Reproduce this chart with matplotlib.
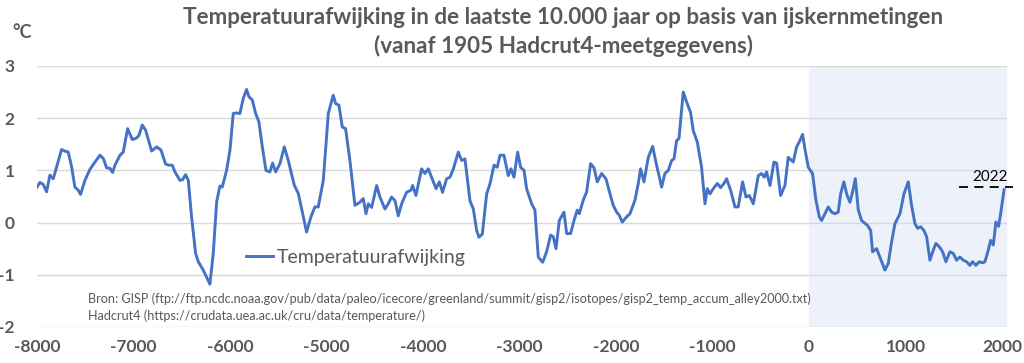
import matplotlib
matplotlib.use('Agg')
import matplotlib.pyplot as plt

plt.rcParams['font.family'] = ['Lato', 'DejaVu Sans']

# jaartallen (negatief = v.Chr.) en temperatuurafwijking in graden C
years = [-8000, -7969, -7935, -7900, -7866, -7831, -7796, -7745, -7710, -7676,
         -7641, -7607, -7572, -7548, -7503, -7451, -7399, -7347, -7313, -7278,
         -7244, -7216, -7192, -7140, -7106, -7061, -7012, -6968, -6943, -6909,
         -6874, -6812, -6760, -6715, -6667, -6632, -6598, -6570, -6519, -6491,
         -6460, -6432, -6398, -6356, -6328, -6277, -6208, -6173, -6138, -6104,
         -6080, -6035, -6000, -5966, -5931, -5897, -5862, -5828, -5803, -5769,
         -5734, -5700, -5665, -5627, -5586, -5558, -5527, -5482, -5437, -5396,
         -5334, -5292, -5206, -5161, -5120, -5085, -5033, -4981, -4930, -4905,
         -4871, -4836, -4802, -4757, -4705, -4653, -4619, -4591, -4567, -4532,
         -4480, -4446, -4394, -4360, -4325, -4290, -4256, -4221, -4170, -4125,
         -4107, -4073, -4014, -3980, -3945, -3911, -3865, -3831, -3797, -3755,
         -3720, -3685, -3634, -3599, -3565, -3513, -3478, -3444, -3420, -3385,
         -3340, -3306, -3264, -3230, -3202, -3161, -3116, -3088, -3057, -3019,
         -2988, -2953, -2926, -2874, -2840, -2805, -2760, -2719, -2677, -2650,
         -2622, -2587, -2539, -2511, -2470, -2435, -2401, -2380, -2339, -2304,
         -2263, -2228, -2194, -2149, -2104, -2062, -2028, -1993, -1966, -1935,
         -1890, -1855, -1803, -1769, -1745, -1710, -1665, -1620, -1579, -1527,
         -1493, -1458, -1423, -1399, -1372, -1347, -1303, -1268, -1227, -1199,
         -1157, -1113, -1078, -1054, -1026, -992, -950, -916, -881, -854,
         -812, -767, -733, -688, -653, -619, -577, -525, -491, -463,
         -439, -404, -363, -335, -294, -249, -215, -163, -128, -94,
         -66, -42, -7, 37, 72, 107, 131, 165, 200, 234,
         269, 303, 328, 362, 390, 424, 452, 480, 511, 545,
         604, 639, 659, 701, 735, 787, 822, 856, 891, 943,
         984, 1029, 1063, 1098, 1126, 1157, 1191, 1219, 1253, 1288,
         1315, 1350, 1385, 1419, 1460, 1495, 1530, 1564, 1599, 1633,
         1668, 1695, 1730, 1764, 1799, 1823, 1858, 1882, 1910, 1937,
         1965, 1986, 2006, 2022]
temps = [0.68, 0.77, 0.73, 0.59, 0.91, 0.84, 1.07, 1.40, 1.37, 1.35,
         1.07, 0.68, 0.62, 0.54, 0.81, 1.02, 1.16, 1.29, 1.23, 1.05,
         1.04, 0.96, 1.10, 1.29, 1.35, 1.80, 1.59, 1.62, 1.67, 1.87,
         1.77, 1.37, 1.45, 1.39, 1.12, 1.10, 1.10, 0.97, 0.81, 0.82,
         0.92, 0.81, 0.11, -0.59, -0.75, -0.91, -1.18, -0.59, 0.40, 0.70,
         0.68, 1.00, 1.39, 2.09, 2.10, 2.09, 2.38, 2.55, 2.41, 2.35,
         2.09, 1.93, 1.45, 1.00, 0.97, 1.14, 0.97, 1.13, 1.45, 1.19,
         0.72, 0.56, -0.18, 0.11, 0.30, 0.30, 0.81, 2.09, 2.44, 2.28,
         2.25, 1.83, 1.80, 1.19, 0.33, 0.39, 0.46, 0.17, 0.36, 0.29,
         0.71, 0.49, 0.26, 0.36, 0.49, 0.42, 0.13, 0.36, 0.58, 0.62,
         0.71, 0.52, 1.03, 0.94, 1.03, 0.87, 0.65, 0.78, 0.58, 0.84,
         0.87, 1.03, 1.35, 1.19, 1.22, 0.42, 0.26, -0.15, -0.28, -0.22,
         0.55, 0.74, 1.10, 1.06, 1.29, 1.29, 0.90, 1.03, 0.87, 1.35,
         1.06, 1.00, 0.65, 0.36, 0.24, -0.66, -0.76, -0.56, -0.24, -0.27,
         -0.50, 0.04, 0.20, -0.21, -0.21, 0.04, 0.24, 0.17, 0.43, 0.59,
         1.13, 1.05, 0.78, 0.94, 0.84, 0.55, 0.33, 0.20, 0.14, 0.01,
         0.11, 0.17, 0.43, 0.75, 1.03, 0.78, 1.25, 1.46, 1.10, 0.68,
         0.94, 1.00, 1.19, 1.22, 1.57, 1.61, 2.50, 2.31, 2.11, 1.76,
         1.54, 1.06, 0.36, 0.65, 0.55, 0.65, 0.75, 0.67, 0.75, 0.84,
         0.62, 0.30, 0.30, 0.78, 0.49, 0.52, 0.36, 0.90, 0.94, 0.87,
         0.97, 0.71, 1.16, 1.14, 0.52, 0.71, 1.25, 1.16, 1.45, 1.57,
         1.69, 1.41, 1.06, 0.94, 0.43, 0.11, 0.04, 0.17, 0.30, 0.20,
         0.17, 0.20, 0.55, 0.78, 0.55, 0.39, 0.59, 0.84, 0.24, 0.04,
         -0.05, -0.15, -0.56, -0.50, -0.66, -0.91, -0.78, -0.37, -0.02, 0.17,
         0.55, 0.78, 0.33, -0.02, -0.11, -0.08, -0.15, -0.27, -0.72, -0.53,
         -0.40, -0.46, -0.56, -0.75, -0.56, -0.59, -0.72, -0.66, -0.72, -0.75,
         -0.82, -0.75, -0.82, -0.75, -0.77, -0.75, -0.53, -0.34, -0.43, 0.01,
         -0.07, 0.17, 0.43, 0.63]

x_ticks = [-8000, -7000, -6000, -5000, -4000, -3000, -2000, -1000, 0, 1000, 2000]
y_ticks = [-2, -1, 0, 1, 2, 3]
marker_2022 = 0.69

grey = '#595959'
blue = '#4472C4'

fig = plt.figure(figsize=(10.24, 3.63), dpi=100)
ax = fig.add_axes([0.0361, 0.0992, 0.9473, 0.719])

ax.axvspan(0, 2052, color='#EDF1F9', zorder=0, lw=0)
ax.plot(years, temps, color=blue, lw=2.1, zorder=3, label='Temperatuurafwijking')

# stippellijn voor 2022
ax.plot([1555, 2114], [marker_2022, marker_2022], color='black', lw=1.3,
        dashes=(5, 3.5), clip_on=False, zorder=4)
ax.text(1880, marker_2022 + 0.05, '2022', fontsize=11, color='black',
        ha='center', va='bottom')

ax.set_xlim(-8000, 2052)
ax.set_ylim(-2, 3)
ax.set_xticks(x_ticks)
ax.set_yticks(y_ticks)
ax.set_xticklabels([str(t) for t in x_ticks])
ax.set_yticklabels([str(t) for t in y_ticks])
ax.tick_params(length=0, labelsize=12.5, labelcolor=grey)
ax.tick_params(axis='y', pad=16)
ax.tick_params(axis='x', pad=9)
for lbl in ax.get_xticklabels() + ax.get_yticklabels():
    lbl.set_fontweight('bold')
ax.grid(axis='y', color='#D9D9D9', lw=1.0)
ax.set_axisbelow(True)
for s in ax.spines.values():
    s.set_visible(False)

leg = ax.legend(loc='upper left', bbox_to_anchor=(0.197, 0.365), frameon=False,
                fontsize=14, handlelength=1.4, handletextpad=0.2)
for t in leg.get_texts():
    t.set_color(grey)

fig.text(0.086, 0.178, 'Bron: GISP (ftp://ftp.ncdc.noaa.gov/pub/data/paleo/icecore/greenland/summit/gisp2/isotopes/gisp2_temp_accum_alley2000.txt)',
         fontsize=9.1, color=grey, va='center')
fig.text(0.086, 0.129, 'Hadcrut4 (https://crudata.uea.ac.uk/cru/data/temperature/)',
         fontsize=9.1, color=grey, va='center')

fig.text(0.55, 0.952, 'Temperatuurafwijking in de laatste 10.000 jaar op basis van ijskernmetingen',
         fontsize=16.2, fontweight='bold', color=grey, ha='center', va='center')
fig.text(0.55, 0.873, '(vanaf 1905 Hadcrut4-meetgegevens)',
         fontsize=16.2, fontweight='bold', color=grey, ha='center', va='center')
fig.text(0.012, 0.91, '°C', fontsize=13, fontweight='bold', color=grey,
         va='center')

fig.savefig('out.png', dpi=100)
